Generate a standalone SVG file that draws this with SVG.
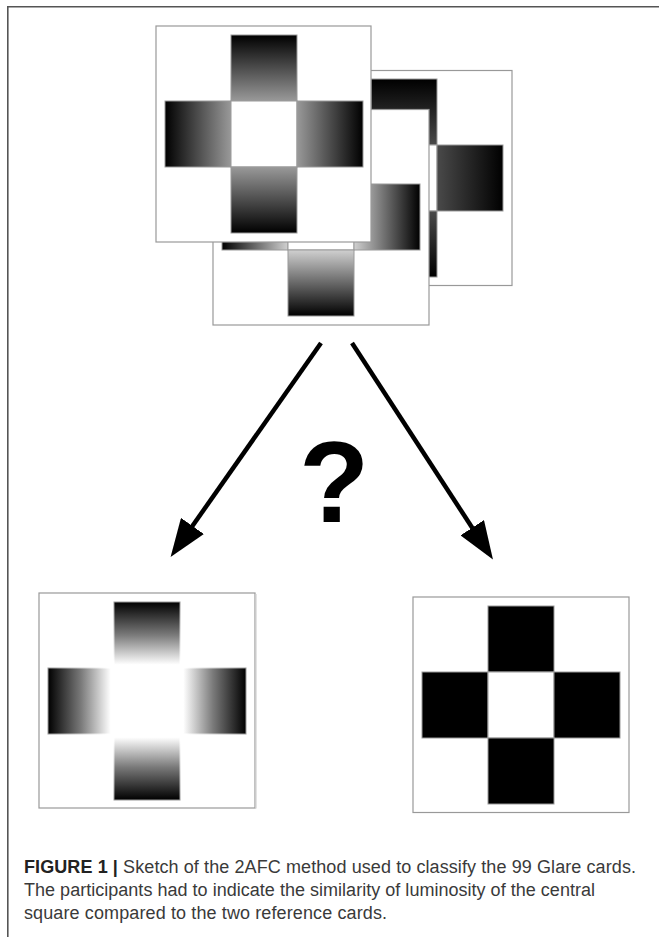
<svg xmlns="http://www.w3.org/2000/svg" width="659" height="937" viewBox="0 0 659 937">
<style>
.card{fill:#fff;stroke:#999;stroke-width:1.2}
.cell{stroke:#9a9a9a;stroke-width:1}
.blk{fill:#000;stroke:#999;stroke-width:1}
.wht{fill:#fff;stroke:#9a9a9a;stroke-width:1}
.conn{stroke:#000;stroke-width:4.5;fill:none;marker-end:url(#head)}
.frame{stroke:#555;stroke-width:1.6;fill:none}
.cap{font-family:"Liberation Sans",Arial,sans-serif;font-size:18px;fill:#3a3a3a}
.capb{font-weight:bold;fill:#222}
.q{font-family:"Liberation Sans",Arial,sans-serif;font-weight:bold;font-size:115px;fill:#000;text-anchor:middle}
</style>
<defs>
<marker id="head" viewBox="0 0 38 28" refX="30" refY="14" markerWidth="38" markerHeight="28" markerUnits="userSpaceOnUse" orient="auto">
<path d="M0,0 L38,14 L0,28 z" fill="#000"/>
</marker>
<!-- card A (front): black to mid gray -->
<linearGradient id="A"><stop offset="0" stop-color="#000"/><stop offset="1" stop-color="#999"/></linearGradient>
<linearGradient id="A-t" href="#A" x1="0" y1="0" x2="0" y2="1"/>
<linearGradient id="A-b" href="#A" x1="0" y1="1" x2="0" y2="0"/>
<linearGradient id="A-l" href="#A" x1="0" y1="0" x2="1" y2="0"/>
<linearGradient id="A-r" href="#A" x1="1" y1="0" x2="0" y2="0"/>
<!-- card B (middle): black to light gray -->
<linearGradient id="B"><stop offset="0" stop-color="#000"/><stop offset="1" stop-color="#d0d0d0"/></linearGradient>
<linearGradient id="B-t" href="#B" x1="0" y1="0" x2="0" y2="1"/>
<linearGradient id="B-b" href="#B" x1="0" y1="1" x2="0" y2="0"/>
<linearGradient id="B-l" href="#B" x1="0" y1="0" x2="1" y2="0"/>
<linearGradient id="B-r" href="#B" x1="1" y1="0" x2="0" y2="0"/>
<!-- card C (back): black to dark gray -->
<linearGradient id="C"><stop offset="0" stop-color="#000"/><stop offset="1" stop-color="#4a4a4a"/></linearGradient>
<linearGradient id="C-t" href="#C" x1="0" y1="0" x2="0" y2="1"/>
<linearGradient id="C-b" href="#C" x1="0" y1="1" x2="0" y2="0"/>
<linearGradient id="C-l" href="#C" x1="0" y1="0" x2="1" y2="0"/>
<linearGradient id="C-r" href="#C" x1="1" y1="0" x2="0" y2="0"/>
<!-- card D (reference, glare): black to white -->
<linearGradient id="D"><stop offset="0" stop-color="#000"/><stop offset="0.5" stop-color="#7a7a7a"/><stop offset="0.95" stop-color="#fff"/><stop offset="1" stop-color="#fff"/></linearGradient>
<linearGradient id="D-t" href="#D" x1="0" y1="0" x2="0" y2="1"/>
<linearGradient id="D-b" href="#D" x1="0" y1="1" x2="0" y2="0"/>
<linearGradient id="D-l" href="#D" x1="0" y1="0" x2="1" y2="0"/>
<linearGradient id="D-r" href="#D" x1="1" y1="0" x2="0" y2="0"/>
<linearGradient id="DS"><stop offset="0" stop-color="#999"/><stop offset="0.9" stop-color="#fff"/></linearGradient>
<linearGradient id="DS-t" href="#DS" x1="0" y1="0" x2="0" y2="1"/>
<linearGradient id="DS-b" href="#DS" x1="0" y1="1" x2="0" y2="0"/>
<linearGradient id="DS-l" href="#DS" x1="0" y1="0" x2="1" y2="0"/>
<linearGradient id="DS-r" href="#DS" x1="1" y1="0" x2="0" y2="0"/>
</defs>

<g id="frame">
<path class="frame" d="M7.8,937 V6.8 H659"/>
</g>

<g id="card-back">
<rect class="card" x="296" y="70.5" width="216" height="215"/>
<rect class="cell" x="371" y="79" width="66" height="66" fill="url(#C-t)"/>
<rect class="cell" x="305" y="145" width="66" height="66" fill="url(#C-l)"/>
<rect class="wht" x="371" y="145" width="66" height="66"/>
<rect class="cell" x="437" y="145" width="66" height="66" fill="url(#C-r)"/>
<rect class="cell" x="371" y="211" width="66" height="66" fill="url(#C-b)"/>
</g>

<g id="card-middle">
<rect class="card" x="213" y="109.5" width="216" height="215.5"/>
<rect class="cell" x="288" y="118" width="66" height="66" fill="url(#B-t)"/>
<rect class="cell" x="222" y="184" width="66" height="66" fill="url(#B-l)"/>
<rect class="wht" x="288" y="184" width="66" height="66"/>
<rect class="cell" x="354" y="184" width="66" height="66" fill="url(#B-r)"/>
<rect class="cell" x="288" y="250" width="66" height="66" fill="url(#B-b)"/>
</g>

<g id="card-front">
<rect class="card" x="156" y="26" width="215" height="216"/>
<rect class="cell" x="231" y="35" width="66" height="66" fill="url(#A-t)"/>
<rect class="cell" x="165" y="101" width="66" height="66" fill="url(#A-l)"/>
<rect class="wht" x="231" y="101" width="66" height="66"/>
<rect class="cell" x="297" y="101" width="66" height="66" fill="url(#A-r)"/>
<rect class="cell" x="231" y="167" width="66" height="66" fill="url(#A-b)"/>
</g>

<g id="connectors">
<path class="conn" d="M321,343 L175.2,550.5"/>
<path class="conn" d="M352,343 L488.6,552.9"/>
</g>

<g id="question">
<text class="q" x="334" y="522">?</text>
</g>

<g id="card-ref-glare">
<rect class="card" x="39" y="593" width="216" height="215"/>
<line x1="255.8" y1="594" x2="255.8" y2="808.5" stroke="#ccc" stroke-width="1.5"/>
<rect x="114" y="602" width="66" height="66" fill="url(#D-t)" stroke="url(#DS-t)" stroke-width="1"/>
<rect x="48" y="668" width="66" height="66" fill="url(#D-l)" stroke="url(#DS-l)" stroke-width="1"/>
<rect x="114" y="668" width="66" height="66" fill="#fff"/>
<rect x="180" y="668" width="66" height="66" fill="url(#D-r)" stroke="url(#DS-r)" stroke-width="1"/>
<rect x="114" y="734" width="66" height="66" fill="url(#D-b)" stroke="url(#DS-b)" stroke-width="1"/>
</g>

<g id="card-ref-black">
<rect class="card" x="413" y="597" width="216" height="215.5"/>
<rect class="blk" x="488" y="606" width="66" height="66"/>
<rect class="blk" x="422" y="672" width="66" height="66"/>
<rect class="wht" x="488" y="672" width="66" height="66"/>
<rect class="blk" x="554" y="672" width="66" height="66"/>
<rect class="blk" x="488" y="738" width="66" height="66"/>
</g>

<g id="caption">
<text class="cap" x="24" y="873" textLength="612" lengthAdjust="spacing"><tspan class="capb">FIGURE 1 |</tspan> Sketch of the 2AFC method used to classify the 99 Glare cards.</text>
<text class="cap" x="24" y="896" textLength="571" lengthAdjust="spacing">The participants had to indicate the similarity of luminosity of the central</text>
<text class="cap" x="24" y="919" textLength="363" lengthAdjust="spacing">square compared to the two reference cards.</text>
</g>
</svg>
